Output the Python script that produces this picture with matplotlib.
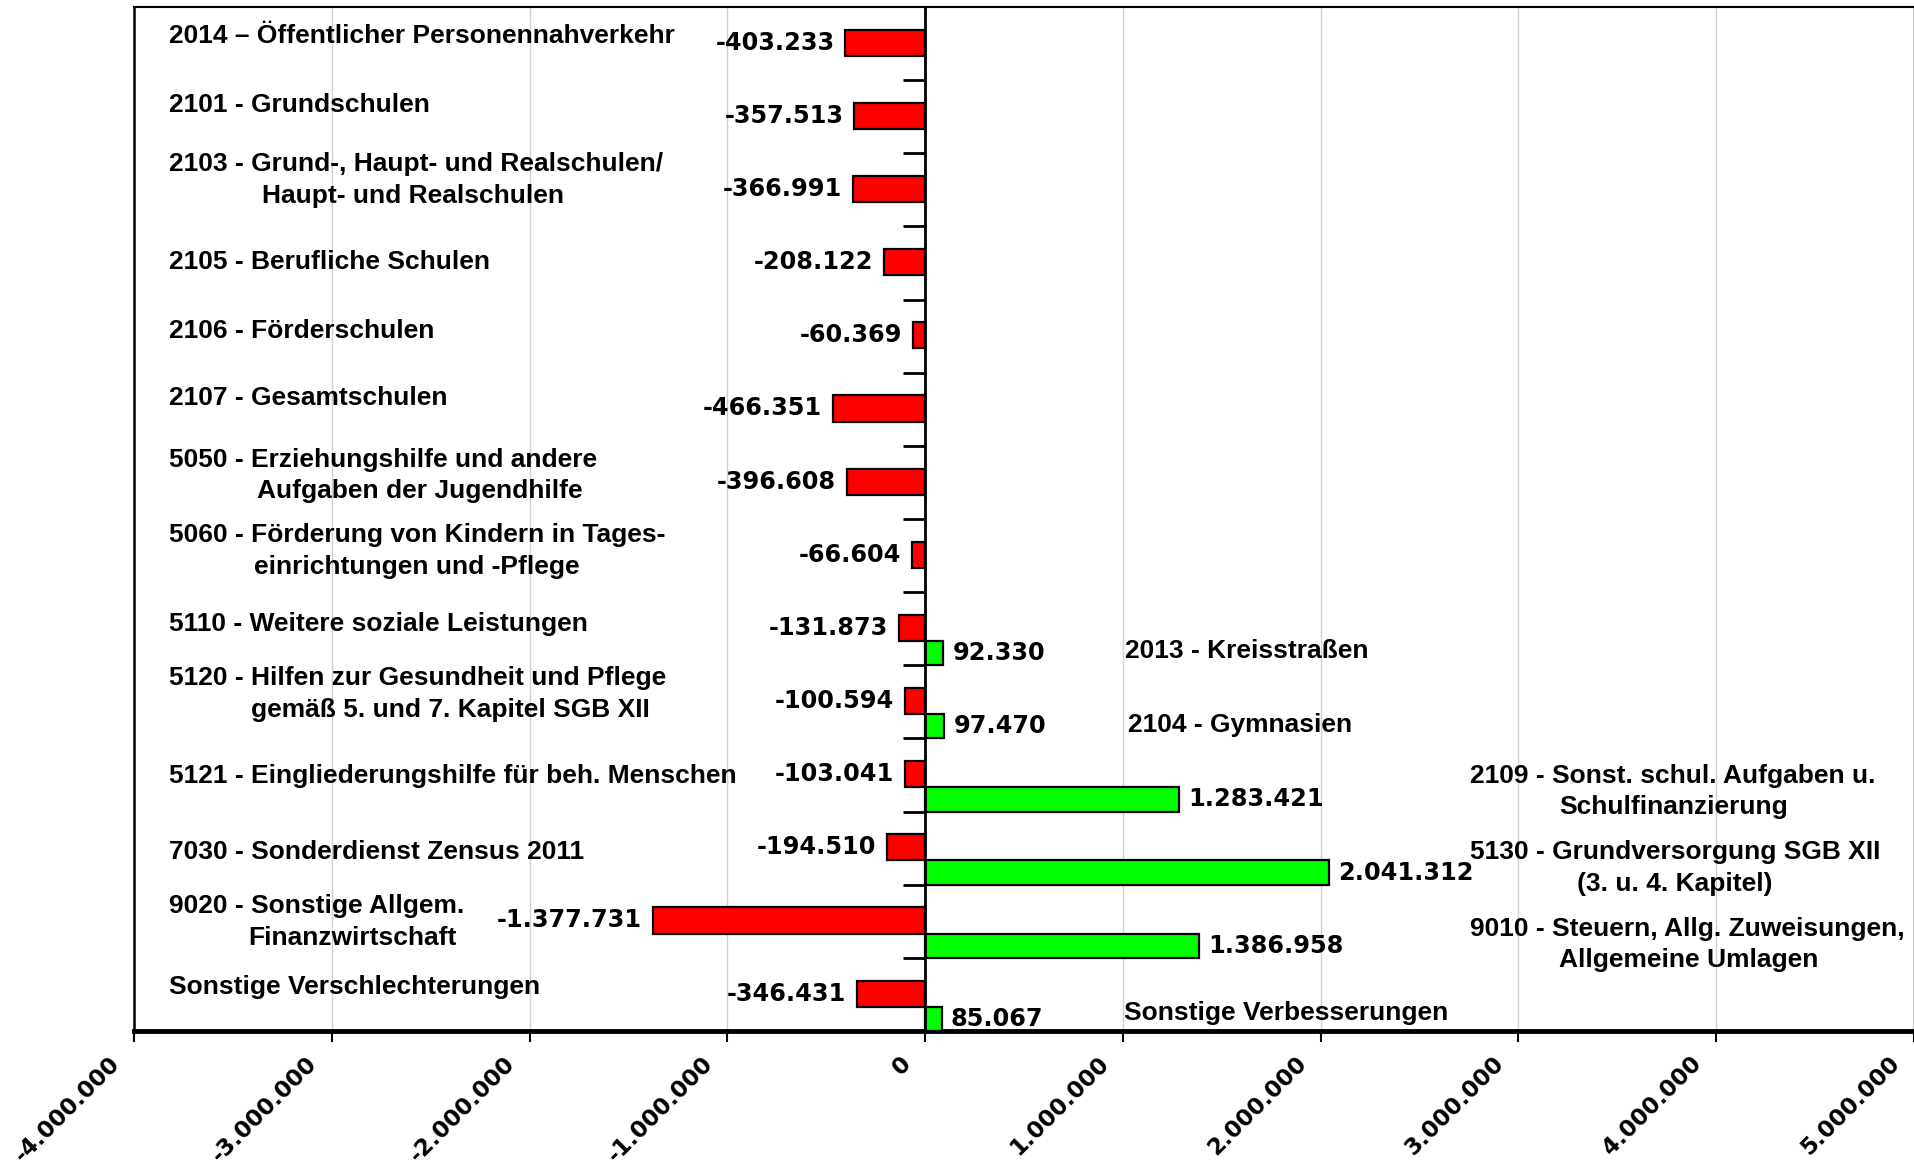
import matplotlib.pyplot as plt
import numpy as np
from matplotlib.transforms import ScaledTranslation

# ----------------------------
# Daten
# ----------------------------

# Verschlechterungen (rot), eine Zeile pro Produktgruppe, von oben nach unten
verschl_labels = [
    ["2014 – Öffentlicher Personennahverkehr"],
    ["2101 - Grundschulen"],
    ["2103 - Grund-, Haupt- und Realschulen/", "Haupt- und Realschulen"],
    ["2105 - Berufliche Schulen"],
    ["2106 - Förderschulen"],
    ["2107 - Gesamtschulen"],
    ["5050 - Erziehungshilfe und andere", "Aufgaben der Jugendhilfe"],
    ["5060 - Förderung von Kindern in Tages-", "einrichtungen und -Pflege"],
    ["5110 - Weitere soziale Leistungen"],
    ["5120 - Hilfen zur Gesundheit und Pflege", "gemäß 5. und 7. Kapitel SGB XII"],
    ["5121 - Eingliederungshilfe für beh. Menschen"],
    ["7030 - Sonderdienst Zensus 2011"],
    ["9020 - Sonstige Allgem.", "Finanzwirtschaft"],
    ["Sonstige Verschlechterungen"],
]
verschl_werte = [-403233, -357513, -366991, -208122, -60369, -466351, -396608,
                 -66604, -131873, -100594, -103041, -194510, -1377731, -346431]

# Verbesserungen (grün), nur in den unteren sechs Zeilen
verbess_zeilen = [8, 9, 10, 11, 12, 13]
verbess_labels = [
    ["2013 - Kreisstraßen"],
    ["2104 - Gymnasien"],
    ["2109 - Sonst. schul. Aufgaben u.", "Schulfinanzierung"],
    ["5130 - Grundversorgung SGB XII", "(3. u. 4. Kapitel)"],
    ["9010 - Steuern, Allg. Zuweisungen,", "Allgemeine Umlagen"],
    ["Sonstige Verbesserungen"],
]
verbess_werte = [92330, 97470, 1283421, 2041312, 1386958, 85067]

x_ticks = np.arange(-4000000, 5000001, 1000000)

# ----------------------------
# Hilfsfunktion
# ----------------------------

def de_format(v):
    return f"{v:,}".replace(",", ".")

# ----------------------------
# Diagramm
# ----------------------------

fig = plt.figure(figsize=(19.15, 11.70), dpi=100)
ax = fig.add_axes([134/1915, 1 - 1031/1170, 1 - 134/1915 - 0.0005, (1031 - 7)/1170])

n = len(verschl_werte)
rows = np.arange(n)

ax.set_xlim(-4000000, 5000000)
ax.set_ylim(n, 0)

ax.grid(axis="x", color="#d0d0d0", lw=1)
ax.set_axisbelow(True)

ax.barh(rows + 0.4885, verschl_werte, height=0.357, color="#ff0000",
        edgecolor="black", lw=1.6, zorder=3)
ax.barh(np.array(verbess_zeilen) + 0.8335, verbess_werte, height=0.333,
        color="#00ff00", edgecolor="black", lw=1.6, zorder=3)

# Werte an den Balken
num_font = dict(family="DejaVu Sans", fontweight="bold", fontsize=17.3)
for i, v in enumerate(verschl_werte):
    ax.annotate(de_format(v), (v, i + 0.4885), xytext=(-11, 0),
                textcoords="offset pixels", ha="right", va="center", **num_font)
for r, v in zip(verbess_zeilen, verbess_werte):
    ax.annotate(de_format(v), (v, r + 0.8335), xytext=(9, 0),
                textcoords="offset pixels", ha="left", va="center", **num_font)

# Beschriftungen links (Verschlechterungen)
lab_font = dict(family=["Liberation Sans", "DejaVu Sans"], fontweight="bold", fontsize=19)
links_y = [0.39, 1.34, 2.15, 3.48, 4.43, 5.35, 6.19, 7.22, 8.44,
           9.18, 10.51, 11.55, 12.29, 13.40]
links_x2 = {2: -3352000, 6: -3377000, 7: -3395000, 9: -3407000, 12: -3420000}
for i, lines in enumerate(verschl_labels):
    ax.text(-3825000, links_y[i], lines[0], ha="left", va="center", **lab_font)
    if len(lines) > 1:
        ax.text(links_x2[i], links_y[i] + 0.434, lines[1], ha="left", va="center", **lab_font)

# Beschriftungen rechts (Verbesserungen)
rechts_x = [1012000, 1025000, 2753000, 2753000, 2753000, 1006000]
rechts_y = [8.80, 9.82, 10.51, 11.55, 12.60, 13.76]
rechts_x2 = [None, None, 3204000, 3296000, 3204000, None]
for k, lines in enumerate(verbess_labels):
    ax.text(rechts_x[k], rechts_y[k], lines[0], ha="left", va="center", **lab_font)
    if len(lines) > 1:
        ax.text(rechts_x2[k], rechts_y[k] + 0.434, lines[1], ha="left", va="center", **lab_font)

# Achse bei 0 mit Teilstrichen zwischen den Gruppen
ax.spines["left"].set_position(("data", 0))
ax.spines["left"].set_linewidth(2)
ax.spines["left"].set_zorder(4)
ax.set_yticks(np.arange(1, n))
ax.set_yticklabels([])
ax.tick_params(axis="y", direction="out", length=16, width=2)
ax.plot([0, 0], [0, 1], transform=ax.transAxes, color="black", lw=1.8, clip_on=False)

ax.spines["bottom"].set_linewidth(3.5)
ax.spines["top"].set_linewidth(1.5)
ax.spines["right"].set_linewidth(1)

ax.set_xticks(x_ticks)
ax.set_xticklabels([de_format(int(t)) for t in x_ticks], rotation=45, ha="right",
                   va="center", rotation_mode="anchor", family="DejaVu Sans",
                   fontweight="bold", fontsize=16.5)
ax.tick_params(axis="x", direction="out", length=8, width=1.5, pad=13)
shift = ScaledTranslation(-18/100, 0, fig.dpi_scale_trans)
for lab in ax.get_xticklabels():
    lab.set_transform(lab.get_transform() + shift)

plt.savefig("out.png", dpi=100)
